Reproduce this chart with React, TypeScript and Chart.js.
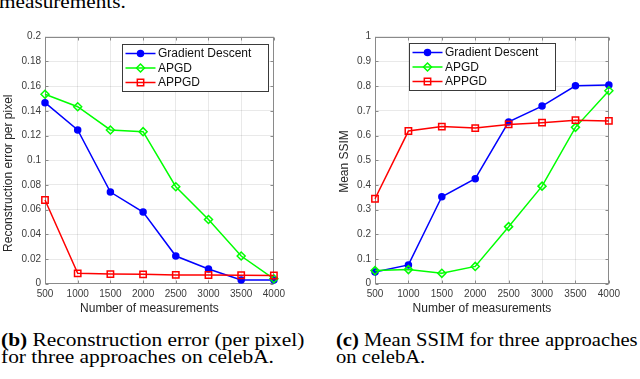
import React, { useEffect, useRef } from 'react';
import { Chart, registerables } from 'chart.js';

Chart.register(...registerables);

const SANS = "'Liberation Sans', Arial, Helvetica, sans-serif";
const SERIF = "'Liberation Serif', 'Times New Roman', Times, serif";

// ---- data ----
const measurements = [500, 1000, 1500, 2000, 2500, 3000, 3500, 4000];
const seriesNames = ['Gradient Descent', 'APGD', 'APPGD'];
const seriesColors = ['#0000ff', '#00ff00', '#ff0000'];
const seriesMarkers = ['circle', 'rectRot', 'rect'];

const errorGD = [0.1466, 0.1245, 0.0742, 0.058, 0.0224, 0.0119, 0.003, 0.003];
const errorAPGD = [0.1534, 0.1433, 0.1245, 0.1231, 0.0785, 0.052, 0.0224, 0.004];
const errorAPPGD = [0.0678, 0.0084, 0.0078, 0.0076, 0.0071, 0.007, 0.0068, 0.0066];

const ssimGD = [0.047, 0.076, 0.352, 0.425, 0.655, 0.719, 0.801, 0.804];
const ssimAPGD = [0.053, 0.057, 0.042, 0.07, 0.231, 0.395, 0.633, 0.781];
const ssimAPPGD = [0.344, 0.618, 0.636, 0.63, 0.645, 0.652, 0.662, 0.659];

const xTickValues = [500, 1000, 1500, 2000, 2500, 3000, 3500, 4000];
const errorTicks = [0, 0.02, 0.04, 0.06, 0.08, 0.1, 0.12, 0.14, 0.16, 0.18, 0.2];
const ssimTicks = [0, 0.1, 0.2, 0.3, 0.4, 0.5, 0.6, 0.7, 0.8, 0.9, 1];

const xTitleText = 'Number of measurements';
const errorTitleText = 'Reconstruction error per pixel';
const ssimTitleText = 'Mean SSIM';

// ---- plugins ----
function drawMarker(ctx: CanvasRenderingContext2D, style: string, x: number, y: number, r: number, color: string) {
  ctx.save();
  ctx.strokeStyle = color;
  ctx.lineWidth = 1.5;
  ctx.beginPath();
  if (style === 'circle') {
    ctx.fillStyle = color;
    ctx.arc(x, y, r, 0, Math.PI * 2);
    ctx.fill();
    ctx.stroke();
  } else if (style === 'rectRot') {
    ctx.moveTo(x, y - r);
    ctx.lineTo(x + r, y);
    ctx.lineTo(x, y + r);
    ctx.lineTo(x - r, y);
    ctx.closePath();
    ctx.stroke();
  } else {
    const s = r * Math.SQRT1_2;
    ctx.rect(x - s, y - s, 2 * s, 2 * s);
    ctx.stroke();
  }
  ctx.restore();
}

const matlabPlugin = {
  id: 'matlabLook',
  beforeDatasetsDraw(chart: any) {
    const { ctx, chartArea: a, scales } = chart;
    const o = chart.options.plugins.matlabLook;
    ctx.save();
    ctx.strokeStyle = '#8a8a8a';
    ctx.lineWidth = 1;
    const L = Math.round(a.left) + 0.5;
    const R = Math.round(a.right) - 0.5;
    const T = Math.round(a.top) + 0.5;
    const B = Math.round(a.bottom) - 0.5;
    ctx.strokeRect(L, T, R - L, B - T);
    const tl = 3;
    ctx.beginPath();
    scales.x.ticks.forEach((t: any) => {
      const px = Math.round(scales.x.getPixelForValue(t.value)) + 0.5;
      ctx.moveTo(px, B);
      ctx.lineTo(px, B - tl);
      ctx.moveTo(px, T);
      ctx.lineTo(px, T + tl);
    });
    scales.y.ticks.forEach((t: any) => {
      const py = Math.round(scales.y.getPixelForValue(t.value)) + 0.5;
      ctx.moveTo(L, py);
      ctx.lineTo(L + tl, py);
      ctx.moveTo(R, py);
      ctx.lineTo(R - tl, py);
    });
    ctx.stroke();

    // axis titles
    ctx.fillStyle = '#262626';
    ctx.font = `12px ${SANS}`;
    ctx.textAlign = 'center';
    ctx.textBaseline = 'middle';
    const cx = (a.left + a.right) / 2;
    const cy = (a.top + a.bottom) / 2;
    ctx.fillText(o.xTitle, cx + o.xTitleDx, a.bottom + o.xTitleDy);
    ctx.save();
    ctx.translate(a.left + o.yTitleDx, cy + o.yTitleDy);
    ctx.rotate(-Math.PI / 2);
    ctx.fillText(o.yTitle, 0, 0);
    ctx.restore();
    ctx.restore();
  },
  afterDatasetsDraw(chart: any) {
    const { ctx, chartArea: a } = chart;
    const o = chart.options.plugins.matlabLook;
    const bx = Math.round(a.left + o.legendDx) + 0.5;
    const by = Math.round(a.top + o.legendDy) + 0.5;
    const bw = 146;
    const bh = 47;
    ctx.save();
    ctx.fillStyle = '#ffffff';
    ctx.fillRect(bx, by, bw, bh);
    ctx.strokeStyle = '#3a3a3a';
    ctx.lineWidth = 1;
    ctx.strokeRect(bx, by, bw, bh);
    const rows = [9, 23.5, 38];
    chart.data.datasets.forEach((ds: any, i: number) => {
      const y = by + rows[i];
      ctx.strokeStyle = ds.borderColor;
      ctx.lineWidth = 1.5;
      ctx.beginPath();
      ctx.moveTo(bx + 3, y);
      ctx.lineTo(bx + 33, y);
      ctx.stroke();
      drawMarker(ctx, ds.pointStyle, bx + 18, y, ds.pointRadius, ds.borderColor);
      ctx.fillStyle = '#111111';
      ctx.font = `12px ${SANS}`;
      ctx.textAlign = 'left';
      ctx.textBaseline = 'middle';
      ctx.fillText(ds.label, bx + 35.5, y + 0.5);
    });
    ctx.restore();
  },
};

type PanelProps = {
  left: number;
  top: number;
  width: number;
  height: number;
  padRight: number;
  yTicks: number[];
  yDecimals: number;
  series: number[][];
  yTitle: string;
  yTitleDx: number;
  yTitleDy: number;
  xTitleDx: number;
  legendDx: number;
  legendDy: number;
};

function Panel(p: PanelProps) {
  const ref = useRef<HTMLCanvasElement | null>(null);
  useEffect(() => {
    if (!ref.current) return;
    const radii = [3, 4, 4.5];
    const datasets = p.series.map((vals, i) => ({
      label: seriesNames[i],
      data: measurements.map((x, j) => ({ x, y: vals[j] })),
      borderColor: seriesColors[i],
      backgroundColor: seriesMarkers[i] === 'circle' ? seriesColors[i] : 'rgba(0,0,0,0)',
      pointBackgroundColor: seriesMarkers[i] === 'circle' ? seriesColors[i] : 'rgba(0,0,0,0)',
      pointBorderColor: seriesColors[i],
      pointStyle: seriesMarkers[i],
      pointRadius: radii[i],
      pointBorderWidth: 1.5,
      borderWidth: 1.5,
      tension: 0,
      clip: false,
      order: 3 - i,
    }));
    const yT = p.yTicks;
    const chart = new Chart(ref.current, {
      type: 'line',
      data: { datasets } as any,
      plugins: [matlabPlugin],
      options: {
        animation: false,
        responsive: false,
        events: [],
        layout: { padding: { left: 0, right: p.padRight, top: 16.7, bottom: 0 } },
        plugins: {
          legend: { display: false },
          tooltip: { enabled: false },
          matlabLook: {
            xTitle: xTitleText,
            yTitle: p.yTitle,
            xTitleDx: p.xTitleDx,
            xTitleDy: 24.6,
            yTitleDx: p.yTitleDx,
            yTitleDy: p.yTitleDy,
            legendDx: p.legendDx,
            legendDy: p.legendDy,
          },
        } as any,
        scales: {
          x: {
            type: 'linear',
            min: xTickValues[0],
            max: xTickValues[xTickValues.length - 1],
            afterBuildTicks: (s: any) => {
              s.ticks = xTickValues.map((v) => ({ value: v }));
            },
            afterFit: (s: any) => {
              s.height = 36.3;
            },
            grid: { color: 'rgba(0,0,0,0.085)', lineWidth: 1, drawTicks: false },
            border: { display: false },
            ticks: {
              autoSkip: false,
              maxRotation: 0,
              padding: 5,
              color: '#3c3c3c',
              font: { family: SANS, size: 10 },
              callback: (v: any) => String(v),
            },
          },
          y: {
            type: 'linear',
            min: yT[0],
            max: yT[yT.length - 1],
            afterBuildTicks: (s: any) => {
              s.ticks = yT.map((v) => ({ value: v }));
            },
            afterFit: (s: any) => {
              s.width = 45;
            },
            grid: { color: 'rgba(0,0,0,0.085)', lineWidth: 1, drawTicks: false },
            border: { display: false },
            ticks: {
              autoSkip: false,
              padding: 4,
              color: '#3c3c3c',
              font: { family: SANS, size: 10 },
              callback: (v: any) => String(Number(Number(v).toFixed(p.yDecimals))),
            },
          },
        },
      } as any,
    });
    return () => chart.destroy();
  }, []);
  return (
    <canvas
      ref={ref}
      width={p.width}
      height={p.height}
      style={{ position: 'absolute', left: p.left, top: p.top, width: p.width, height: p.height }}
    />
  );
}

const captionStyle: React.CSSProperties = {
  position: 'absolute',
  fontFamily: SERIF,
  fontSize: 18,
  lineHeight: '17.5px',
  color: '#000',
  whiteSpace: 'nowrap',
  transformOrigin: '0 0',
};

export default function App() {
  return (
    <div
      style={{
        position: 'absolute',
        left: 0,
        top: 0,
        width: 640,
        height: 379,
        overflow: 'hidden',
        background: '#ffffff',
      }}
    >
      <div style={{ ...captionStyle, left: -1, top: -6.8, lineHeight: '18.5px', transform: 'scaleX(1.18)' }}>
        measurements.
      </div>
      <Panel
        left={0}
        top={20}
        width={290}
        height={300}
        padRight={14}
        yTicks={errorTicks}
        yDecimals={2}
        series={[errorGD, errorAPGD, errorAPPGD]}
        yTitle={errorTitleText}
        yTitleDx={-36.5}
        yTitleDy={13}
        xTitleDx={-10}
        legendDx={77}
        legendDy={7.3}
      />
      <Panel
        left={330}
        top={20}
        width={295}
        height={300}
        padRight={13.3}
        yTicks={ssimTicks}
        yDecimals={1}
        series={[ssimGD, ssimAPGD, ssimAPPGD]}
        yTitle={ssimTitleText}
        yTitleDx={-30.5}
        yTitleDy={1.3}
        xTitleDx={-10}
        legendDx={34}
        legendDy={6.3}
      />
      <div style={{ ...captionStyle, left: 1, top: 331.9, transform: 'scaleX(1.19)' }}>
        <span style={{ fontWeight: 'bold' }}>(b)</span> Reconstruction error (per pixel)
        <br />
        for three approaches on celebA.
      </div>
      <div style={{ ...captionStyle, left: 336, top: 331.9, transform: 'scaleX(1.145)' }}>
        <span style={{ fontWeight: 'bold' }}>(c)</span> Mean SSIM for three approaches
        <br />
        on celebA.
      </div>
    </div>
  );
}
